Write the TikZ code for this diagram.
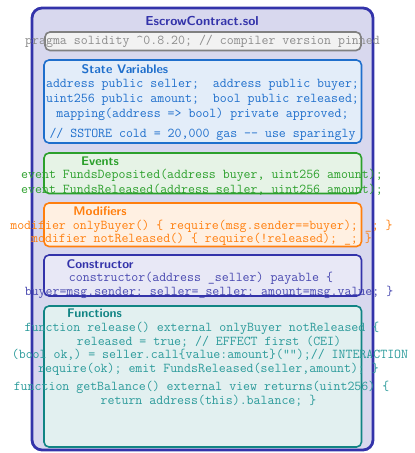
\documentclass[tikz,border=0pt]{standalone}
\usepackage{xcolor}
% palette
\definecolor{contractline}{HTML}{3333AA}
\definecolor{contractfill}{HTML}{D8D8EE}
\definecolor{pragline}{HTML}{808080}
\definecolor{pragfill}{HTML}{F2F2F2}
\definecolor{pragtext}{HTML}{8C8C8C}
\definecolor{svcol}{HTML}{1F6FCC}
\definecolor{svfill}{HTML}{E3EDF9}
\definecolor{evcol}{HTML}{2CA02C}
\definecolor{evfill}{HTML}{E6F3E6}
\definecolor{modcol}{HTML}{FF7F0E}
\definecolor{modfill}{HTML}{FFF0E2}
\definecolor{concol}{HTML}{3333AA}
\definecolor{confill}{HTML}{E8E8F6}
\definecolor{context}{HTML}{4848B0}
\definecolor{fncol}{HTML}{118484}
\definecolor{fnfill}{HTML}{E2F0F0}
\definecolor{fntext}{HTML}{2A9A9A}
\begin{document}
\begin{tikzpicture}[x=1pt,y=-1pt,
  code/.style={font=\ttfamily\fontsize{13.5}{14}\selectfont, inner sep=0pt, anchor=base},
  head/.style={font=\sffamily\bfseries\fontsize{12.5}{13}\selectfont, inner sep=0pt, anchor=base},
  panel/.style={rounded corners=5pt, line width=1.6pt}]
\useasboundingbox (0,0) rectangle (415,453);

% contract frame
\draw[contractline, fill=contractfill, line width=2.8pt, rounded corners=10pt] (32,8) rectangle (373,450);
\node[head, contractline, font=\sffamily\bfseries\fontsize{13}{14}\selectfont] (title) at (202,25) {EscrowContract.sol};

% pragma line
\draw[panel, pragline, fill=pragfill] (45,32) rectangle (361,50.5);
\node[code, pragtext] (pragma) at (202.5,44) {pragma solidity \textasciicircum0.8.20; // compiler version pinned};

% section panels
\draw[panel, svcol, fill=svfill]   (44,60)  rectangle (361.5,143);
\draw[panel, evcol, fill=evfill]   (44,153) rectangle (361.5,193.5);
\draw[panel, modcol, fill=modfill] (44,203) rectangle (361.5,246.5);
\draw[panel, concol, fill=confill] (44,255) rectangle (361.5,296);
\draw[panel, fncol, fill=fnfill]   (44,306) rectangle (361.5,447);

% state variables
\node[head, svcol] (svh) at (125,73) {State Variables};
\begin{scope}[every node/.append style={code, svcol}]
\node (sv1) at (202.5,87)  {address public seller;\ \ address public buyer;};
\node (sv2) at (202.5,102) {uint256 public amount;\ \ bool public released;};
\node (sv3) at (202.5,117) {mapping(address => bool) private approved;};
\node (sv4) at (202.5,137) {// SSTORE cold = 20,000 gas -{}- use sparingly};
\end{scope}

% events
\node[head, evcol] (evh) at (100,165) {Events};
\begin{scope}[every node/.append style={code, evcol}]
\node (ev1) at (202,178) {event FundsDeposited(address buyer, uint256 amount);};
\node (ev2) at (202,193) {event FundsReleased(address seller, uint256 amount);};
\end{scope}

% modifiers
\node[head, modcol] (modh) at (100,215) {Modifiers};
\begin{scope}[every node/.append style={code, modcol}]
\node (mod1) at (201.5,229) {modifier onlyBuyer() \{ require(msg.sender==buyer); \_; \}};
\node (mod2) at (201.5,242) {modifier notReleased() \{ require(!released); \_; \}};
\end{scope}

% constructor
\node[head, concol] (conh) at (100,268) {Constructor};
\begin{scope}[every node/.append style={code, context}]
\node (con1) at (201,281) {constructor(address \_seller) payable \{};
\node (con2) at (209,295) {buyer=msg.sender; seller=\_seller; amount=msg.value; \}};
\end{scope}

% functions
\node[head, fncol] (fnh) at (94.5,317) {Functions};
\begin{scope}[every node/.append style={code, fntext}]
\node (fn1) at (202,331) {function release() external onlyBuyer notReleased \{};
\node (fn2) at (209,345) {released = true; // EFFECT first (CEI)};
\node (fn3) at (210,358) {(bool ok,) = seller.call\{value:amount\}("");// INTERACTION};
\node (fn4) at (208.5,372) {require(ok); emit FundsReleased(seller,amount); \}};
\node (fn5) at (201.5,390) {function getBalance() external view returns(uint256) \{};
\node (fn6) at (208.5,404) {return address(this).balance; \}};
\end{scope}
\end{tikzpicture}
\end{document}
